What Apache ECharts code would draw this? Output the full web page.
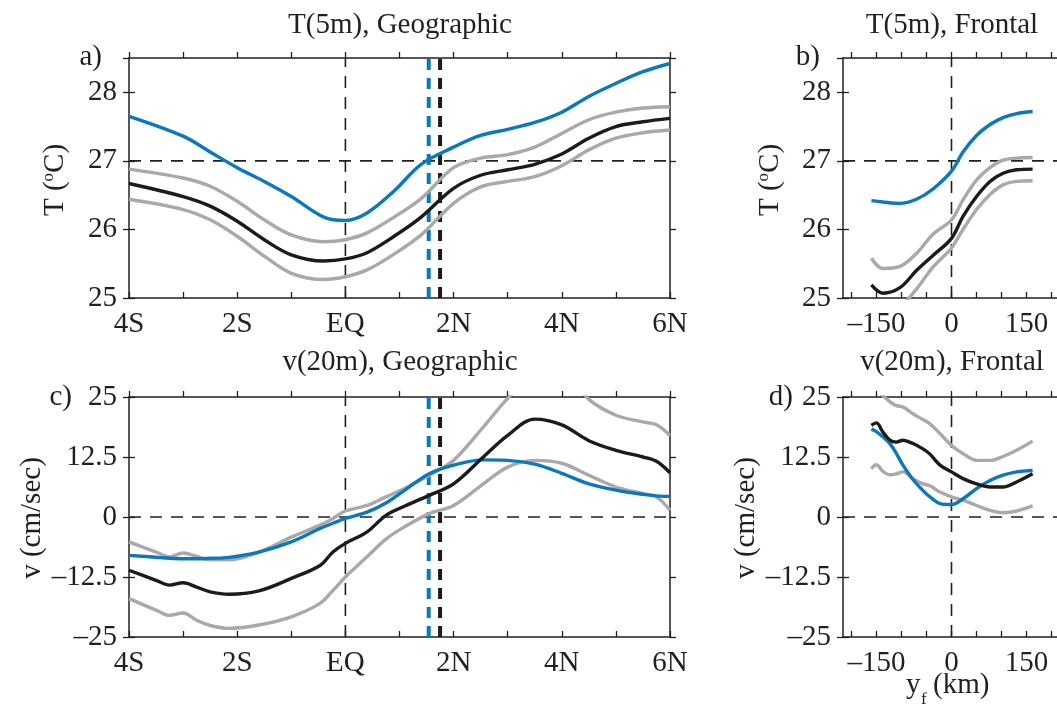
<!DOCTYPE html>
<html>
<head>
<meta charset="utf-8">
<script src="https://cdn.jsdelivr.net/npm/echarts@6/dist/echarts.min.js"></script>
<style>
  html, body { margin: 0; padding: 0; background: #fff; }
  #chart { width: 1057px; height: 709px; }
</style>
</head>
<body>
<div id="chart"></div>
<script>
/* global echarts */

// panel a: T(5m) against latitude
const latT = [-4, -3, -2.5, -2, -1.5, -1, -0.4, 0, 0.4, 0.9, 1.4, 2, 2.5, 3, 3.5, 4, 4.5, 5, 5.5, 6]
const tGeoBlue = [27.65, 27.36, 27.13, 26.9, 26.7, 26.48, 26.18, 26.13, 26.24, 26.56, 26.95, 27.2, 27.37, 27.46, 27.56, 27.71, 27.94, 28.13, 28.3, 28.42]
const tGeoBlack = [26.67, 26.48, 26.34, 26.12, 25.85, 25.63, 25.54, 25.57, 25.66, 25.9, 26.18, 26.6, 26.79, 26.87, 26.95, 27.1, 27.33, 27.5, 27.57, 27.62]
const tGeoHigh = [26.88, 26.75, 26.63, 26.41, 26.14, 25.92, 25.82, 25.85, 25.95, 26.18, 26.45, 26.9, 27.04, 27.09, 27.2, 27.4, 27.6, 27.71, 27.77, 27.79]
const tGeoLow = [26.44, 26.29, 26.14, 25.9, 25.61, 25.36, 25.27, 25.31, 25.41, 25.64, 25.92, 26.38, 26.62, 26.7, 26.77, 26.93, 27.16, 27.33, 27.41, 27.45]

// panel b: T(5m) against frontal coordinate (km)
const yfT = [-160, -137, -103, -70, -37, 0, 23, 50, 77, 103, 130, 162]
const tFrBlue = [26.42, 26.40, 26.38, 26.44, 26.59, 26.85, 27.13, 27.37, 27.53, 27.63, 27.69, 27.72]
const tFrBlack = [25.19, 25.07, 25.15, 25.40, 25.62, 25.87, 26.19, 26.48, 26.70, 26.82, 26.87, 26.88]
const tFrHigh = [25.58, 25.43, 25.46, 25.65, 25.93, 26.14, 26.43, 26.72, 26.90, 27.01, 27.04, 27.05]
const tFrLow = [24.45, 24.6, 24.85, 25.13, 25.45, 25.73, 26.0, 26.29, 26.51, 26.65, 26.70, 26.71]

// panel c: v(20m) against latitude
const latV = [-4, -3.5, -3.25, -3, -2.75, -2.5, -2.15, -1.6, -1, -0.47, -0.23, 0, 0.4, 0.75, 1.1, 1.55, 2, 2.55, 3, 3.5, 4, 4.5, 5, 5.5, 5.75, 6]
const vGeoBlue = [-8.0, -8.4, -8.6, -8.7, -8.7, -8.6, -8.4, -7.3, -5.2, -2.4, -1.3, -0.3, 1.0, 2.9, 5.6, 9.0, 10.8, 11.9, 11.8, 11.0, 9.1, 6.9, 5.6, 4.7, 4.4, 4.3]
const vGeoBlack = [-11.1, -13.2, -14.2, -13.7, -14.6, -15.6, -16.1, -15.4, -12.8, -10.1, -7.3, -5.5, -3.1, 0.35, 2.3, 4.5, 6.9, 12.5, 17.0, 20.4, 19.2, 15.9, 13.9, 12.5, 11.6, 9.2]
const vGeoHigh = [-5.2, -7.3, -8.3, -7.5, -8.2, -8.9, -8.9, -7.3, -4.2, -1.7, -0.3, 1.25, 2.4, 4.2, 6.0, 8.7, 11.8, 18.75, 24.7, 30, 31, 24.5, 21.2, 19.8, 19.2, 17.0]
const vGeoLow = [-17.0, -19.4, -20.5, -20.0, -21.5, -22.6, -23.2, -22.5, -20.8, -18.0, -15.3, -12.5, -8.3, -4.6, -2.0, 0.7, 2.4, 6.9, 10.4, 11.8, 11.2, 8.7, 6.25, 4.9, 4.2, 1.4]

// panel d: v(20m) against frontal coordinate (km)
const yfV = [-160, -150, -137, -123, -110, -97, -77, -57, -43, -23, 0, 23, 50, 77, 103, 130, 162]
const vFrBlue = [18.3, 17.8, 16.7, 15.3, 13.2, 10.8, 7.8, 5.5, 4.2, 2.8, 2.6, 3.8, 5.9, 7.6, 8.7, 9.4, 9.7]
const vFrBlack = [19.1, 19.6, 17.7, 16.0, 15.6, 16.0, 15.3, 14.2, 13.1, 10.8, 9.4, 8.0, 6.9, 6.25, 6.25, 7.3, 9.0]
const vFrHigh = [27.5, 26.5, 25.3, 24.0, 23.2, 22.9, 21.5, 20.3, 19.4, 17.4, 14.9, 13.2, 11.8, 11.8, 12.6, 13.9, 15.8]
const vFrLow = [10.1, 10.9, 9.5, 8.8, 9.0, 9.4, 8.0, 6.9, 6.5, 5.2, 4.2, 3.5, 2.4, 1.4, 0.9, 1.25, 2.3]

// reference lines
const eqLat = 0
const frontLatBlue = 1.54
const frontLatBlack = 1.75
const tRef = 27
const vRef = 0
const yfRef = 0

// axes
const tRange = [25, 28.5]
const vRange = [-25, 25]
const latRange = [-4, 6]
const yfRange = [-216.7, 216.7]
const yfTicks = [-200, -150, -100, -50, 0, 50, 100, 150, 200]
const yfLabels = [-150, 0, 150]

const FONT = 'Liberation Serif'
const FS = 29
const INK = '#231f20'
const BLUE = '#0a78bf'
const BLACK = '#1b1b1b'
const GRAY = '#a9a9ab'

const grids = [
  { left: 129, top: 58, width: 541, height: 240 },
  { left: 843, top: 58, width: 217, height: 240 },
  { left: 129, top: 397, width: 541, height: 240 },
  { left: 843, top: 397, width: 217, height: 240 }
].map(g => Object.assign({ outerBoundsMode: 'none', containLabel: false }, g))

const dashFmt = v => String(v).replace('-', '\u2013')
const latFmt = v => {
  if (Math.abs(v % 2) > 1e-6) return ''
  if (v === 0) return 'EQ'
  return v < 0 ? (-v) + 'S' : v + 'N'
}

const lineAx = { show: true, onZero: false, lineStyle: { color: INK, width: 1.5 } }
const noLine = { show: false, onZero: false }
const tickStyle = { color: INK, width: 1.3 }
const labelStyle = { fontFamily: FONT, fontSize: FS, color: INK }

function xAxes (p, geo) {
  const base = geo
    ? { type: 'value', min: latRange[0], max: latRange[1], interval: 1 }
    : { type: 'value', min: yfRange[0], max: yfRange[1] }
  const ticks = geo ? {} : { customValues: yfTicks }
  const labels = geo ? { formatter: latFmt } : { customValues: yfLabels, formatter: dashFmt }
  return [
    Object.assign({}, base, {
      gridIndex: p, position: 'bottom', splitLine: { show: false }, axisLine: lineAx,
      axisTick: Object.assign({ inside: true, length: 6, lineStyle: tickStyle }, ticks),
      axisLabel: Object.assign({ margin: 12, showMinLabel: true, showMaxLabel: true }, labelStyle, labels)
    }),
    Object.assign({}, base, {
      gridIndex: p, position: 'top', splitLine: { show: false }, axisLine: lineAx,
      axisTick: Object.assign({ inside: false, length: 6, lineStyle: tickStyle }, ticks),
      axisLabel: { show: false }
    })
  ]
}

function yAxes (p, temp) {
  const base = temp
    ? { type: 'value', min: tRange[0], max: tRange[1], interval: 1 }
    : { type: 'value', min: vRange[0], max: vRange[1], interval: 12.5 }
  return [
    Object.assign({}, base, {
      gridIndex: p, position: 'left', splitLine: { show: false }, axisLine: lineAx,
      axisTick: { inside: true, length: 6, lineStyle: tickStyle },
      axisLabel: Object.assign({ margin: 12, showMaxLabel: !temp, formatter: dashFmt }, labelStyle)
    }),
    Object.assign({}, base, {
      gridIndex: p, position: 'left', splitLine: { show: false }, axisLine: noLine,
      axisTick: { inside: false, length: 6, lineStyle: tickStyle },
      axisLabel: { show: false }
    }),
    Object.assign({}, base, {
      gridIndex: p, position: 'right', splitLine: { show: false }, axisLine: lineAx,
      axisTick: { inside: false, length: 6, lineStyle: tickStyle },
      axisLabel: { show: false }
    })
  ]
}

function curve (p, xs, ys, color) {
  return {
    type: 'line',
    xAxisIndex: 2 * p,
    yAxisIndex: 3 * p,
    data: xs.map((x, i) => [x, ys[i]]),
    symbol: 'none',
    smooth: 0.35,
    clip: true,
    lineStyle: { color: color, width: 3.4 },
    z: 3
  }
}

function refLine (p, pts, color, width, dash) {
  return {
    type: 'line',
    xAxisIndex: 2 * p,
    yAxisIndex: 3 * p,
    data: pts,
    symbol: 'none',
    silent: true,
    lineStyle: { color: color, width: width, type: dash },
    z: 2
  }
}

const thin = [12, 9]
const thick = [11, 8]

const series = [
  // a
  refLine(0, [[eqLat, tRange[0]], [eqLat, tRange[1]]], INK, 1.6, thin),
  refLine(0, [[latRange[0], tRef], [latRange[1], tRef]], INK, 1.6, thin),
  refLine(0, [[frontLatBlue, tRange[0]], [frontLatBlue, tRange[1]]], BLUE, 4, thick),
  refLine(0, [[frontLatBlack, tRange[0]], [frontLatBlack, tRange[1]]], BLACK, 4, thick),
  curve(0, latT, tGeoHigh, GRAY),
  curve(0, latT, tGeoLow, GRAY),
  curve(0, latT, tGeoBlue, BLUE),
  curve(0, latT, tGeoBlack, BLACK),
  // b
  refLine(1, [[yfRef, tRange[0]], [yfRef, tRange[1]]], INK, 1.6, thin),
  refLine(1, [[yfRange[0], tRef], [yfRange[1], tRef]], INK, 1.6, thin),
  curve(1, yfT, tFrHigh, GRAY),
  curve(1, yfT, tFrLow, GRAY),
  curve(1, yfT, tFrBlue, BLUE),
  curve(1, yfT, tFrBlack, BLACK),
  // c
  refLine(2, [[eqLat, vRange[0]], [eqLat, vRange[1]]], INK, 1.6, thin),
  refLine(2, [[latRange[0], vRef], [latRange[1], vRef]], INK, 1.6, thin),
  refLine(2, [[frontLatBlue, vRange[0]], [frontLatBlue, vRange[1]]], BLUE, 4, thick),
  refLine(2, [[frontLatBlack, vRange[0]], [frontLatBlack, vRange[1]]], BLACK, 4, thick),
  curve(2, latV, vGeoHigh, GRAY),
  curve(2, latV, vGeoLow, GRAY),
  curve(2, latV, vGeoBlue, BLUE),
  curve(2, latV, vGeoBlack, BLACK),
  // d
  refLine(3, [[yfRef, vRange[0]], [yfRef, vRange[1]]], INK, 1.6, thin),
  refLine(3, [[yfRange[0], vRef], [yfRange[1], vRef]], INK, 1.6, thin),
  curve(3, yfV, vFrHigh, GRAY),
  curve(3, yfV, vFrLow, GRAY),
  curve(3, yfV, vFrBlue, BLUE),
  curve(3, yfV, vFrBlack, BLACK)
]

function txt (x, y, text, align, extra) {
  return {
    type: 'text', x: x, y: y, silent: true,
    style: Object.assign({ text: text, fontFamily: FONT, fontSize: FS, fill: INK, align: align || 'center', verticalAlign: 'middle' }, extra || {})
  }
}

function vname (x, y, text, rich) {
  const t = txt(x, y, text, 'center', rich ? { rich: rich } : {})
  t.rotation = Math.PI / 2
  return t
}

const supRich = { s: { fontFamily: FONT, fontSize: 17, fill: INK, verticalAlign: 'top' } }

const graphic = [
  txt(400, 25, 'T(5m), Geographic'),
  txt(952, 25, 'T(5m), Frontal'),
  txt(400, 362, 'v(20m), Geographic'),
  txt(952, 362, 'v(20m), Frontal'),
  txt(102, 57, 'a)', 'right'),
  txt(820, 57, 'b)', 'right'),
  txt(72, 397, 'c)', 'right'),
  txt(793, 397, 'd)', 'right'),
  vname(55, 180, 'T ({s|o}C)', supRich),
  vname(770, 180, 'T ({s|o}C)', supRich),
  vname(32, 518, 'v (cm/sec)'),
  vname(746, 518, 'v (cm/sec)'),
  txt(906, 685, 'y', 'left'),
  txt(921, 700, 'f', 'left', { fontSize: 17 }),
  txt(933, 685, '(km)', 'left')
]

const xAll = [].concat(xAxes(0, true), xAxes(1, false), xAxes(2, true), xAxes(3, false))
const yAll = [].concat(yAxes(0, true), yAxes(1, true), yAxes(2, false), yAxes(3, false))

const myChart = echarts.init(document.getElementById('chart'))
myChart.setOption({
  animation: false,
  backgroundColor: '#fff',
  grid: grids,
  xAxis: xAll,
  yAxis: yAll,
  series: series,
  graphic: graphic
})
</script>
</body>
</html>
